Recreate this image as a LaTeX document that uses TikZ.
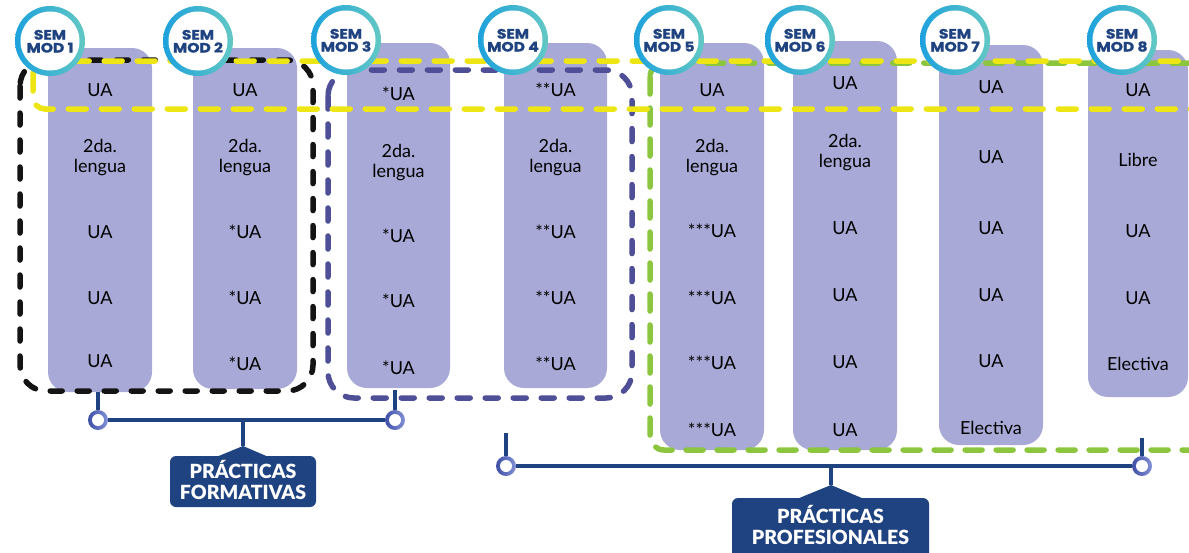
\documentclass[tikz,border=0pt]{standalone}
\usepackage{fontspec}
\setmainfont{Lato}
\newfontfamily\semfont{Poppins}[BoldFeatures={FakeBold=1.3,FakeStretch=1.15}]
\newfontfamily\boxfont{Lato Black}
\definecolor{colfill}{HTML}{A8A9D6}
\definecolor{navy}{HTML}{1F4380}
\definecolor{ylw}{HTML}{EEE614}
\definecolor{blk}{HTML}{141414}
\definecolor{prp}{HTML}{4E4F96}
\definecolor{grn}{HTML}{8CC63F}
\definecolor{ringA}{HTML}{1DA1DD}
\definecolor{ringB}{HTML}{62C8C4}
\definecolor{dotA}{HTML}{3E4FA6}
\definecolor{dotB}{HTML}{8391D6}
\begin{document}
\begin{tikzpicture}[x=1pt,y=-1pt,
  colbox/.style={fill=colfill,rounded corners=20pt},
  ctext/.style={font=\fontsize{18}{20}\selectfont,text=black,inner sep=0pt,anchor=base},
  frame/.style={line width=5.5pt,line cap=round,rounded corners=26pt},
  semcirc/.style={circle,minimum size=70pt,inner sep=0pt,left color=ringA,right color=ringB,
     path picture={\fill[white] (path picture bounding box.center) circle (29.5pt);}},
  semtext/.style={text=navy,inner sep=0pt,anchor=base,font=\semfont\bfseries\fontsize{13.5}{13.5}\selectfont},
  dotnode/.style={circle,minimum size=20pt,inner sep=0pt,left color=dotA,right color=dotB,
     path picture={\fill[white] (path picture bounding box.center) circle (6pt);}},
  bracket/.style={draw=navy,line width=4pt},
  pbox/.style={fill=navy,rounded corners=6pt,inner sep=0pt},
  ptext/.style={text=white,inner sep=0pt,anchor=base,font=\boxfont\fontsize{19.5}{21}\selectfont}
]
\useasboundingbox (0,0) rectangle (1189,552);
% columns
\path[colbox] (48,48) rectangle (152,392);
\path[colbox] (193,48) rectangle (297,389);
\path[colbox] (347,43) rectangle (450,388);
\path[colbox] (504,43) rectangle (607,388);
\path[colbox] (660,43) rectangle (764,450);
\path[colbox] (793,41) rectangle (897,450);
\path[colbox] (939,45) rectangle (1043,445);
\path[colbox] (1088,50) rectangle (1188,397);
% column texts
\node[ctext] (a1) at (100,96) {UA};
\node[ctext] (a2) at (100,152) {2da.};
\node[ctext] (a2b) at (100,172) {lengua};
\node[ctext] (a3) at (100,238.5) {UA};
\node[ctext] (a4) at (100,304.5) {UA};
\node[ctext] (a5) at (100,367.5) {UA};
\node[ctext] (b1) at (245,96) {UA};
\node[ctext] (b2) at (245,152) {2da.};
\node[ctext] (b2b) at (245,172) {lengua};
\node[ctext] (b3) at (245,238) {*UA};
\node[ctext] (b4) at (245,304) {*UA};
\node[ctext] (b5) at (245,370) {*UA};
\node[ctext] (c1) at (398.5,100) {*UA};
\node[ctext] (c2) at (398.5,157) {2da.};
\node[ctext] (c2b) at (398.5,177) {lengua};
\node[ctext] (c3) at (398.5,242.5) {*UA};
\node[ctext] (c4) at (398.5,307.5) {*UA};
\node[ctext] (c5) at (398.5,374.5) {*UA};
\node[ctext] (d1) at (555.5,96) {**UA};
\node[ctext] (d2) at (555.5,152) {2da.};
\node[ctext] (d2b) at (555.5,172) {lengua};
\node[ctext] (d3) at (555.5,238) {**UA};
\node[ctext] (d4) at (555.5,304) {**UA};
\node[ctext] (d5) at (555.5,370) {**UA};
\node[ctext] (e1) at (712,96) {UA};
\node[ctext] (e2) at (712,152) {2da.};
\node[ctext] (e2b) at (712,172) {lengua};
\node[ctext] (e3) at (712,237) {***UA};
\node[ctext] (e4) at (712,304) {***UA};
\node[ctext] (e5) at (712,369) {***UA};
\node[ctext] (e6) at (712,436) {***UA};
\node[ctext] (f1) at (845,89) {UA};
\node[ctext] (f2) at (845,147) {2da.};
\node[ctext] (f2b) at (845,167) {lengua};
\node[ctext] (f3) at (845,234) {UA};
\node[ctext] (f4) at (845,301.5) {UA};
\node[ctext] (f5) at (845,368.5) {UA};
\node[ctext] (f6) at (845,436.5) {UA};
\node[ctext] (g1) at (991,93.5) {UA};
\node[ctext] (g2) at (991,163.5) {UA};
\node[ctext] (g3) at (991,234.5) {UA};
\node[ctext] (g4) at (991,301.5) {UA};
\node[ctext] (g5) at (991,367.5) {UA};
\node[ctext] (g6) at (991,434) {Electiva};
\node[ctext] (h1) at (1138,96.5) {UA};
\node[ctext] (h2) at (1138,166.5) {Libre};
\node[ctext] (h3) at (1138,237.5) {UA};
\node[ctext] (h4) at (1138,304.5) {UA};
\node[ctext] (h5) at (1138,370.5) {Electiva};
% dashed frames
\draw[frame,draw=blk,dash pattern=on 12pt off 15pt] (20,60) rectangle (313,391);
\draw[frame,draw=prp,dash pattern=on 13pt off 15pt] (328,70) rectangle (632,398);
\draw[frame,draw=grn,dash pattern=on 17pt off 14pt,rounded corners=14pt] (650,63) rectangle (1215,450);
\draw[frame,draw=ylw,dash pattern=on 18pt off 15pt,rounded corners=12pt] (33,61) rectangle (1215,109);
% semester circles
\foreach \n/\x/\y in {1/50/41,2/198/41,3/346/40,4/513/40,5/669/40,6/800/40,7/955/40,8/1122/40}{
  \node[semcirc] (s\n) at (\x,\y) {};
  \node[semtext] (sa\n) at ([yshift=1.5pt]s\n.center) {SEM};
  \node[semtext] (sb\n) at ([yshift=-11.5pt]s\n.center) {MOD \n};
}
% practicas formativas
\node[dotnode] (fl) at (98,420) {};
\node[dotnode] (fr) at (395,420) {};
\coordinate (flt) at (98,392);
\coordinate (frt) at (395,390);
\coordinate (fmid) at (243,420);
\coordinate (fapex) at (243,446);
\node[pbox,minimum width=146pt,minimum height=51pt] (form) at (243,481.5) {};
\node[ptext] (form1) at (243,478.5) {PRÁCTICAS};
\node[ptext] (form2) at (243,499.5) {FORMATIVAS};
\draw[bracket] (flt) -- (fl);
\draw[bracket] (frt) -- (fr);
\draw[bracket] (fl) -- (fr);
\draw[bracket] (fmid) -- (fapex);
\fill[navy] ([xshift=-25pt,yshift=-0.5pt]form.north) -- (fapex) -- ([xshift=24pt,yshift=-0.5pt]form.north) -- cycle;
% practicas profesionales
\node[dotnode] (pl) at (506,466) {};
\node[dotnode] (pr) at (1142,466) {};
\coordinate (plt) at (506,433);
\coordinate (prt) at (1142,438);
\coordinate (pmid) at (831,466);
\coordinate (papex) at (831,485);
\node[pbox,minimum width=197pt,minimum height=64pt] (prof) at (830.5,530) {};
\node[ptext] (prof1) at (830.5,523.5) {PRÁCTICAS};
\node[ptext] (prof2) at (830.5,544.5) {PROFESIONALES};
\draw[bracket] (plt) -- (pl);
\draw[bracket] (prt) -- (pr);
\draw[bracket] (pl) -- (pr);
\draw[bracket] (pmid) -- (papex);
\fill[navy] ([xshift=-32pt,yshift=-0.5pt]prof.north) -- (papex) -- ([xshift=32pt,yshift=-0.5pt]prof.north) -- cycle;
\end{tikzpicture}
\end{document}
